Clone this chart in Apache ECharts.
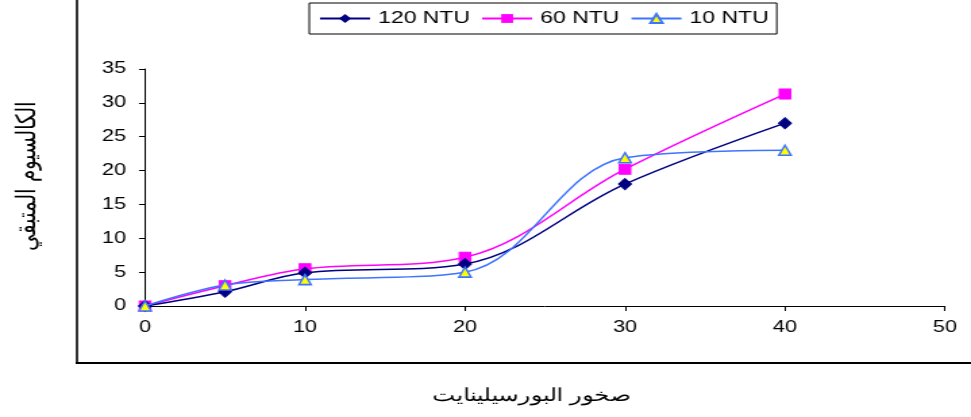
<!DOCTYPE html>
<html>
<head>
<meta charset="utf-8">
<script src="https://cdn.jsdelivr.net/npm/echarts@6/dist/echarts.min.js"></script>
<style>
  html, body { margin: 0; padding: 0; background: #fff; overflow: hidden; }
  #wrap { width: 971px; height: 417px; overflow: hidden; }
  /* the chart is laid out narrow and widened horizontally, giving the wide lettering */
  #chart { width: 719px; height: 417px; transform: scaleX(1.3505); transform-origin: 0 0; }
</style>
</head>
<body>
<div id="wrap"><div id="chart"></div></div>
<script>
// Sampling points (x values) and remaining calcium for each turbidity level
const xValues = [0, 5, 10, 20, 30, 40];
const ntu120 = [0, 2.1, 4.9, 6.2, 18.0, 27.0];
const ntu60 = [0, 3.0, 5.5, 7.2, 20.2, 31.3];
const ntu10 = [0, 3.1, 3.9, 5.0, 21.9, 23.0];

const seriesNames = ['120 NTU', '60 NTU', '10 NTU'];
const yTitle = 'الكالسيوم المتبقي';
const xTitle = 'صخور البورسيلينايت';

const font = '"Liberation Sans", Arial, sans-serif';

function pairs(vals) {
  return xValues.map((x, i) => [x, vals[i]]);
}

const chart = echarts.init(document.getElementById('chart'), null, { renderer: 'canvas' });

chart.setOption({
  animation: false,
  backgroundColor: '#ffffff',
  textStyle: { fontFamily: font, color: '#000' },
  grid: { left: 107.4, right: 19.3, top: 69, bottom: 111, containLabel: false },
  legend: {
    left: 229,
    top: 3,
    padding: [7, 6, 7, 7],
    itemWidth: 37,
    itemHeight: 11,
    itemGap: 8,
    borderColor: '#000',
    borderWidth: 1,
    textStyle: { fontFamily: font, fontSize: 17, color: '#000', padding: [0, 0, 0, 1] },
    data: seriesNames
  },
  xAxis: {
    type: 'value',
    min: 0,
    max: 50,
    interval: 10,
    axisLine: { lineStyle: { color: '#000', width: 1 } },
    axisTick: { show: true, length: 5, inside: false, lineStyle: { color: '#000' } },
    axisLabel: { fontFamily: font, fontSize: 16, color: '#000', margin: 14 },
    splitLine: { show: false }
  },
  yAxis: {
    type: 'value',
    min: 0,
    max: 35,
    interval: 5,
    axisLine: { show: true, lineStyle: { color: '#000', width: 1 } },
    axisTick: { show: true, length: 4.5, lineStyle: { color: '#000' } },
    axisLabel: { fontFamily: font, fontSize: 16, color: '#000', margin: 14 },
    splitLine: { show: false }
  },
  series: [
    {
      name: seriesNames[0],
      type: 'line',
      data: pairs(ntu120),
      smooth: 0.35,
      symbol: 'diamond',
      symbolSize: [9.5, 11],
      lineStyle: { color: '#000080', width: 1.5 },
      itemStyle: { color: '#000080', borderColor: '#000080' },
      z: 3
    },
    {
      name: seriesNames[1],
      type: 'line',
      data: pairs(ntu60),
      smooth: 0.35,
      symbol: 'rect',
      symbolSize: [8.5, 10],
      lineStyle: { color: '#ff00ff', width: 1.5 },
      itemStyle: { color: '#ff00ff', borderColor: '#ff00ff' },
      z: 2
    },
    {
      name: seriesNames[2],
      type: 'line',
      data: pairs(ntu10),
      smooth: 0.35,
      symbol: 'triangle',
      symbolSize: [9, 10],
      lineStyle: { color: '#3f74ff', width: 1.5 },
      itemStyle: { color: '#ffff00', borderColor: '#3f74ff', borderWidth: 1.5 },
      z: 4
    }
  ],
  graphic: [
    // outer frame: left and bottom edges of the chart box
    { type: 'line', shape: { x1: 57, y1: 0, x2: 57, y2: 363 }, style: { stroke: '#000', lineWidth: 1.6 } },
    { type: 'line', shape: { x1: 56, y1: 363, x2: 719, y2: 363 }, style: { stroke: '#000', lineWidth: 2 } },
    // axis titles
    {
      type: 'text',
      x: 393.2,
      y: 396,
      style: { text: xTitle, font: '18px ' + font, fill: '#000', align: 'center', verticalAlign: 'middle' }
    },
    {
      type: 'text',
      x: 20,
      y: 176,
      rotation: Math.PI / 2,
      style: { text: yTitle, font: '20px ' + font, fill: '#000', align: 'center', verticalAlign: 'middle' }
    }
  ]
});
</script>
</body>
</html>
